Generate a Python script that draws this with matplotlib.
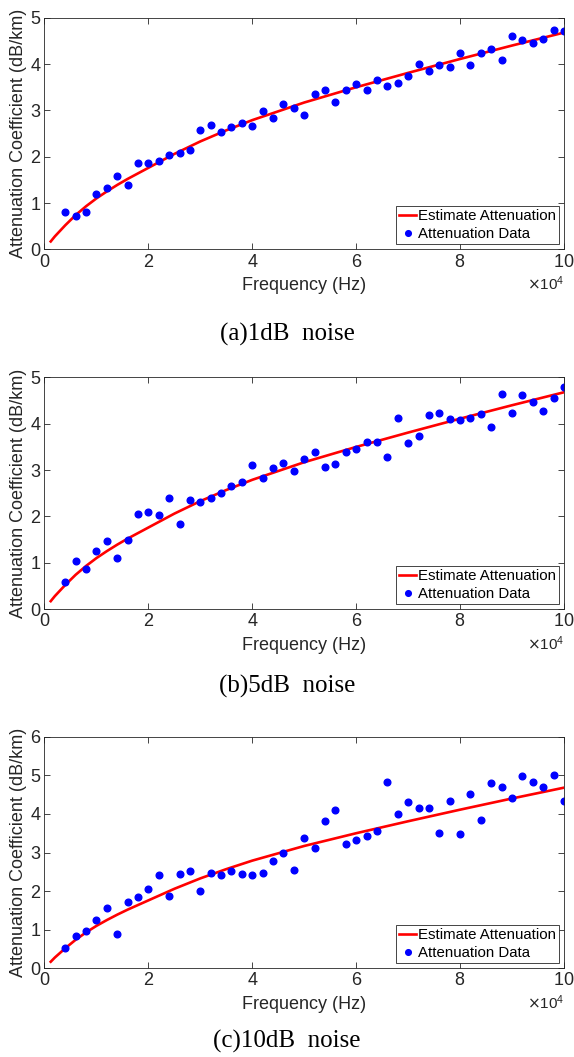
import matplotlib
matplotlib.use("Agg")
import matplotlib.pyplot as plt

# ----------------------------
# Data (frequency in Hz, attenuation in dB/km)
# ----------------------------
freq = [4000, 6000, 8000, 10000, 12000, 14000, 16000, 18000, 20000, 22000,
        24000, 26000, 28000, 30000, 32000, 34000, 36000, 38000, 40000, 42000,
        44000, 46000, 48000, 50000, 52000, 54000, 56000, 58000, 60000, 62000,
        64000, 66000, 68000, 70000, 72000, 74000, 76000, 78000, 80000, 82000,
        84000, 86000, 88000, 90000, 92000, 94000, 96000, 98000, 100000]

atten_1db = [0.80, 0.71, 0.80, 1.20, 1.32, 1.58, 1.38, 1.87, 1.86, 1.91,
             2.03, 2.08, 2.14, 2.58, 2.68, 2.53, 2.65, 2.72, 2.67, 2.99,
             2.83, 3.14, 3.05, 2.90, 3.35, 3.45, 3.18, 3.45, 3.58, 3.43,
             3.66, 3.53, 3.59, 3.75, 4.00, 3.84, 3.99, 3.94, 4.23, 3.99,
             4.24, 4.32, 4.09, 4.61, 4.53, 4.45, 4.54, 4.73, 4.71]

atten_5db = [0.59, 1.03, 0.87, 1.25, 1.46, 1.10, 1.49, 2.05, 2.10, 2.02,
             2.39, 1.84, 2.35, 2.31, 2.40, 2.51, 2.66, 2.74, 3.12, 2.82,
             3.05, 3.15, 2.97, 3.23, 3.40, 3.07, 3.14, 3.39, 3.45, 3.61,
             3.60, 3.28, 4.13, 3.59, 3.74, 4.18, 4.24, 4.10, 4.08, 4.13,
             4.21, 3.93, 4.64, 4.24, 4.62, 4.48, 4.28, 4.56, 4.80]

atten_10db = [0.52, 0.84, 0.97, 1.25, 1.56, 0.89, 1.72, 1.84, 2.06, 2.43,
              1.88, 2.44, 2.51, 2.01, 2.48, 2.41, 2.52, 2.44, 2.43, 2.47,
              2.77, 3.00, 2.56, 3.38, 3.12, 3.82, 4.11, 3.22, 3.32, 3.43,
              3.57, 4.84, 4.01, 4.30, 4.16, 4.16, 3.51, 4.34, 3.47, 4.51,
              3.84, 4.81, 4.69, 4.41, 4.97, 4.84, 4.69, 5.02, 4.33]

# estimated attenuation curve (same in all panels)
est_freq = [1200, 2000, 3000, 4000, 6000, 8000, 10000, 12000, 14000, 16000,
            18000, 20000, 25000, 30000, 35000, 40000, 50000, 60000, 70000,
            80000, 90000, 100000]
est_atten = [0.17, 0.28, 0.40, 0.52, 0.74, 0.93, 1.10, 1.25, 1.39, 1.52,
             1.64, 1.76, 2.06, 2.33, 2.57, 2.79, 3.17, 3.50, 3.81, 4.11,
             4.40, 4.68]

captions = ["(a)1dB  noise", "(b)5dB  noise", "(c)10dB  noise"]
ymax = [5, 5, 6]

# ----------------------------
# Figure
# ----------------------------
plt.rcParams['font.family'] = ['Liberation Sans', 'DejaVu Sans']

fig = plt.figure(figsize=(5.74, 10.57), dpi=100)

ax_bottoms = [0.7641, 0.4238, 0.0839]
cap_y = [1 - 334 / 1057, 1 - 686 / 1057, 1 - 1041 / 1057]
axis_gray = (0.15, 0.15, 0.15)

for i, data in enumerate([atten_1db, atten_5db, atten_10db]):
    ax = fig.add_axes([0.0775, ax_bottoms[i], 0.905, 0.2191])

    ax.plot(est_freq, est_atten, color="red", lw=1.9, label="Estimate Attenuation")
    ax.plot(freq, data, "o", color="blue", ms=4.8, label="Attenuation Data")

    ax.set_xlim(0, 100000)
    ax.set_ylim(0, ymax[i])
    ax.set_xticks([0, 20000, 40000, 60000, 80000, 100000])
    ax.set_yticks(range(0, ymax[i] + 1))
    ax.ticklabel_format(axis="x", style="sci", scilimits=(4, 4), useMathText=True)
    ax.xaxis.get_offset_text().set_fontsize(11)
    ax.xaxis.get_offset_text().set_color(axis_gray)

    ax.tick_params(direction="in", top=True, right=True, length=4, width=0.6,
                   labelsize=13, colors=axis_gray, pad=3)
    for sp in ax.spines.values():
        sp.set_color(axis_gray)
        sp.set_linewidth(0.6)

    ax.set_xlabel("Frequency (Hz)", fontsize=13, color=axis_gray, labelpad=5)
    ax.set_ylabel("Attenuation Coefficient (dB/km)", fontsize=13,
                  color=axis_gray, labelpad=2)

    leg = ax.legend(loc="lower right", fontsize=10.8, handlelength=1.15,
                    handletextpad=0.1, labelspacing=0.25, borderpad=0.2,
                    borderaxespad=0.35, fancybox=False, framealpha=1,
                    markerscale=0.85)
    leg.get_frame().set_edgecolor(axis_gray)
    leg.get_frame().set_linewidth(0.6)

    fig.text(0.5, cap_y[i], captions[i], ha="center", va="center",
             fontsize=18, family="Liberation Serif")

plt.savefig("out.png", dpi=100)
